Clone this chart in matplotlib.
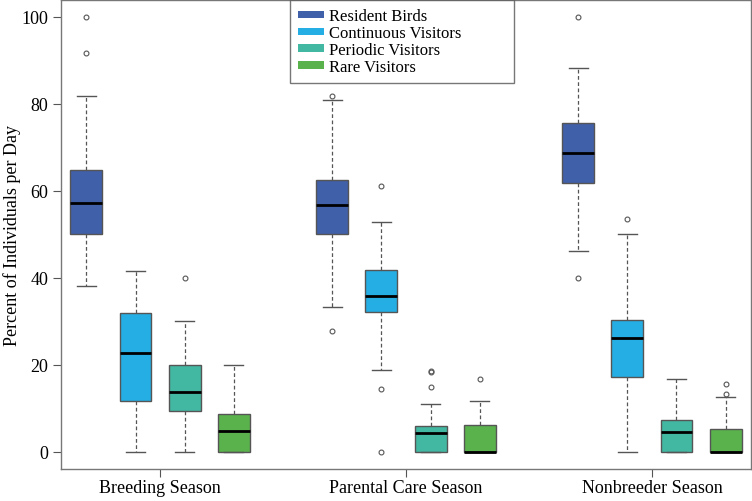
import matplotlib
matplotlib.use("Agg")
import matplotlib.pyplot as plt
from matplotlib.patches import Patch

plt.rcParams['font.family'] = ['Liberation Serif', 'DejaVu Serif']

seasons = ['Breeding Season', 'Parental Care Season', 'Nonbreeder Season']
groups = ['Resident Birds', 'Continuous Visitors', 'Periodic Visitors', 'Rare Visitors']
colors = ['#4160AA', '#24AEE3', '#42B8A2', '#5AB24C']

# per group: one value per season
med = {
    'Resident Birds':      [57.2, 56.6, 68.7],
    'Continuous Visitors': [22.6, 35.7, 26.0],
    'Periodic Visitors':   [13.7, 4.3, 4.4],
    'Rare Visitors':       [4.7, 0.0, 0.0],
}
q1 = {
    'Resident Birds':      [50.0, 50.0, 61.8],
    'Continuous Visitors': [11.7, 32.2, 17.2],
    'Periodic Visitors':   [9.4, 0.0, 0.0],
    'Rare Visitors':       [0.0, 0.0, 0.0],
}
q3 = {
    'Resident Birds':      [64.8, 62.4, 75.6],
    'Continuous Visitors': [31.8, 41.8, 30.3],
    'Periodic Visitors':   [20.0, 5.9, 7.2],
    'Rare Visitors':       [8.7, 6.2, 5.1],
}
whislo = {
    'Resident Birds':      [38.1, 33.3, 46.1],
    'Continuous Visitors': [0.0, 18.7, 0.0],
    'Periodic Visitors':   [0.0, 0.0, 0.0],
    'Rare Visitors':       [0.0, 0.0, 0.0],
}
whishi = {
    'Resident Birds':      [81.7, 80.9, 88.1],
    'Continuous Visitors': [41.4, 52.7, 50.0],
    'Periodic Visitors':   [30.0, 11.0, 16.7],
    'Rare Visitors':       [20.0, 11.7, 12.5],
}
fliers = {
    'Resident Birds':      [[100.0, 91.6], [81.8, 27.8], [100.0, 40.0]],
    'Continuous Visitors': [[], [61.0, 14.4, 0.0], [53.4]],
    'Periodic Visitors':   [[40.0], [18.6, 18.3, 14.9], []],
    'Rare Visitors':       [[], [16.7], [15.5, 13.3]],
}

fig = plt.figure(figsize=(7.52, 5.02), dpi=100)
ax = fig.add_axes([61/752, (502-470)/502, (751-61)/752, (470-1)/502])

offsets = [-0.3, -0.1, 0.1, 0.3]
for g, name in enumerate(groups):
    stats = []
    for s in range(len(seasons)):
        stats.append(dict(med=med[name][s], q1=q1[name][s], q3=q3[name][s],
                          whislo=whislo[name][s], whishi=whishi[name][s],
                          fliers=fliers[name][s]))
    pos = [s + 1 + offsets[g] for s in range(len(seasons))]
    ax.bxp(stats, positions=pos, widths=0.13, patch_artist=True, manage_ticks=False,
           boxprops=dict(facecolor=colors[g], edgecolor='#555555', linewidth=1.0),
           medianprops=dict(color='black', linewidth=2.0),
           whiskerprops=dict(color='#555555', linestyle=(0, (3, 2)), linewidth=0.9),
           capprops=dict(color='#555555', linewidth=1.0),
           capwidths=0.078,
           flierprops=dict(marker='o', markersize=3.5, markerfacecolor='none',
                           markeredgecolor='#555555', markeredgewidth=0.8))

ax.set_xlim(0.597, 3.403)
ax.set_ylim(-4, 103.8)
ax.set_xticks([1, 2, 3])
ax.set_xticklabels(seasons, fontsize=13)
ax.set_yticks([0, 20, 40, 60, 80, 100])
ax.tick_params(axis='y', labelsize=13, length=6, color='#555555', pad=3)
ax.tick_params(axis='x', length=6, color='#555555', pad=1)
ax.set_ylabel('Percent of Individuals per Day', fontsize=13)
ax.yaxis.set_label_coords(-0.058, 0.5)
for sp in ax.spines.values():
    sp.set_color('#777777')
    sp.set_linewidth(1.0)

handles = [Patch(facecolor=c, edgecolor='none') for c in colors]
leg = ax.legend(handles, groups, loc='upper left', mode='expand',
                bbox_to_anchor=(0.332, 0.0, 0.325, 1.0),
                fontsize=12, frameon=True, fancybox=False, handlelength=1.55,
                handleheight=0.3, labelspacing=0.05, borderpad=0.5,
                handletextpad=0.3, borderaxespad=0)
leg.get_frame().set_edgecolor('#555555')
leg.get_frame().set_linewidth(1.0)

fig.savefig('out.png', dpi=100)
